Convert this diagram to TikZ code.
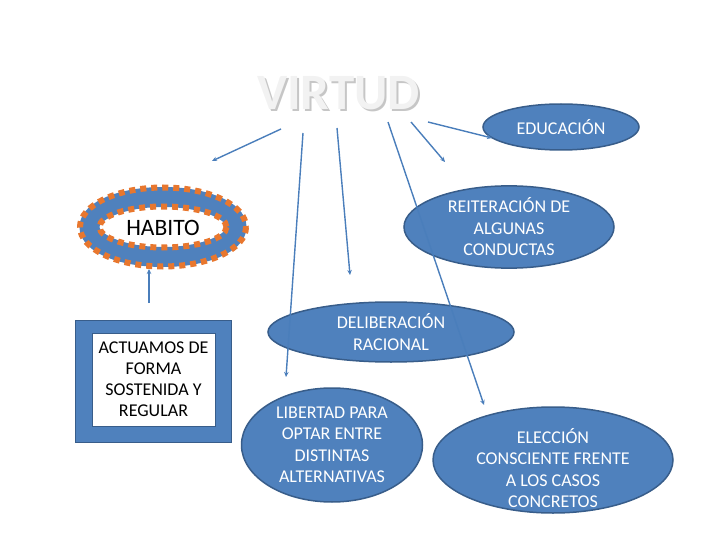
\documentclass[tikz,border=0pt]{standalone}
\usepackage{fontspec}
\setmainfont{Carlito}
\usetikzlibrary{arrows.meta,shapes.geometric}
\definecolor{ofblue}{HTML}{4F81BD}
\definecolor{ofdark}{HTML}{385D8A}
\definecolor{arrblue}{HTML}{4A7EBB}
\definecolor{oforange}{HTML}{E8772E}
\tikzset{
  bubble/.style={ellipse, draw=ofdark, line width=1.5pt, fill=ofblue, inner sep=0pt, text=white, align=center, font=\fontsize{18}{21.5}\selectfont},
  btext/.style={text=white, align=center, font=\fontsize{18}{21.5}\selectfont},
  conn/.style={arrblue, line width=1.4pt, -{Stealth[length=5pt,width=4.5pt]}},
  orangedots/.style={oforange, line width=6pt, dash pattern=on 6pt off 5pt},
  titlefont/.style={anchor=base, inner sep=0pt, font=\fontsize{51}{51}\bfseries\selectfont}
}
\begin{document}
\begin{tikzpicture}[x=1pt,y=-1pt]
\useasboundingbox (0,0) rectangle (720,540);
% title with shadow
\node[titlefont, text=gray!45] (vshadow) at (340.5,112) {VIRTUD};
\node[titlefont, text=gray!10] (virtud) at (338.5,110) {VIRTUD};
% nodes
\node[bubble, minimum width=156, minimum height=46] (edu) at (561,127) {EDUCACIÓN};
\node[bubble, minimum width=210, minimum height=78] (rei) at (509,227) {REITERACIÓN DE\\ALGUNAS\\CONDUCTAS};
\node[bubble, minimum width=246, minimum height=60] (del) at (391,332) {DELIBERACIÓN\\RACIONAL};
\node[bubble, minimum width=181, minimum height=114] (lib) at (332,445) {LIBERTAD PARA\\OPTAR ENTRE\\DISTINTAS\\ALTERNATIVAS};
\node[bubble, minimum width=240, minimum height=106] (ele) at (553,460) {};
\node[btext] (eletxt) at (553,468) {ELECCIÓN\\CONSCIENTE FRENTE\\A LOS CASOS\\CONCRETOS};
% habito ring
\draw[ofblue, line width=20pt] (163,227) ellipse [x radius=73.5, y radius=30];
\draw[orangedots] (163,227) ellipse [x radius=83, y radius=39.5];
\draw[orangedots] (163,227) ellipse [x radius=63.5, y radius=20.5];
\node[font=\fontsize{23.5}{23.5}\selectfont] (habito) at (163,228) {HABITO};
% box
\node[draw=ofdark, line width=1pt, fill=ofblue, minimum width=156, minimum height=122, inner sep=0pt] (actbox) at (153,381) {};
\node[draw=ofdark, line width=1pt, fill=white, minimum width=123, minimum height=93, inner sep=0pt, align=center, font=\fontsize{18}{21}\selectfont] (act) at (153.5,379.5) {ACTUAMOS DE\\FORMA\\SOSTENIDA Y\\REGULAR};
% connector endpoints
\coordinate (s1) at (281,129); \coordinate (e1) at (212,161);
\coordinate (s2) at (303,133); \coordinate (e2) at (286,377);
\coordinate (s3) at (337,128); \coordinate (e3) at (350,275);
\coordinate (s4) at (388,122); \coordinate (e4) at (484,405);
\coordinate (s5) at (411,122); \coordinate (e5) at (445,162);
\coordinate (s6) at (428,122); \coordinate (e6) at (492,138);
\coordinate (h1) at (149,303); \coordinate (h2) at (149,269);
\draw[conn] (s1) -- (e1);
\draw[conn] (s2) -- (e2);
\draw[conn] (s3) -- (e3);
\draw[conn] (s4) -- (e4);
\draw[conn] (s5) -- (e5);
\draw[conn] (s6) -- (e6);
\draw[conn] (h1) -- (h2);
\end{tikzpicture}
\end{document}
